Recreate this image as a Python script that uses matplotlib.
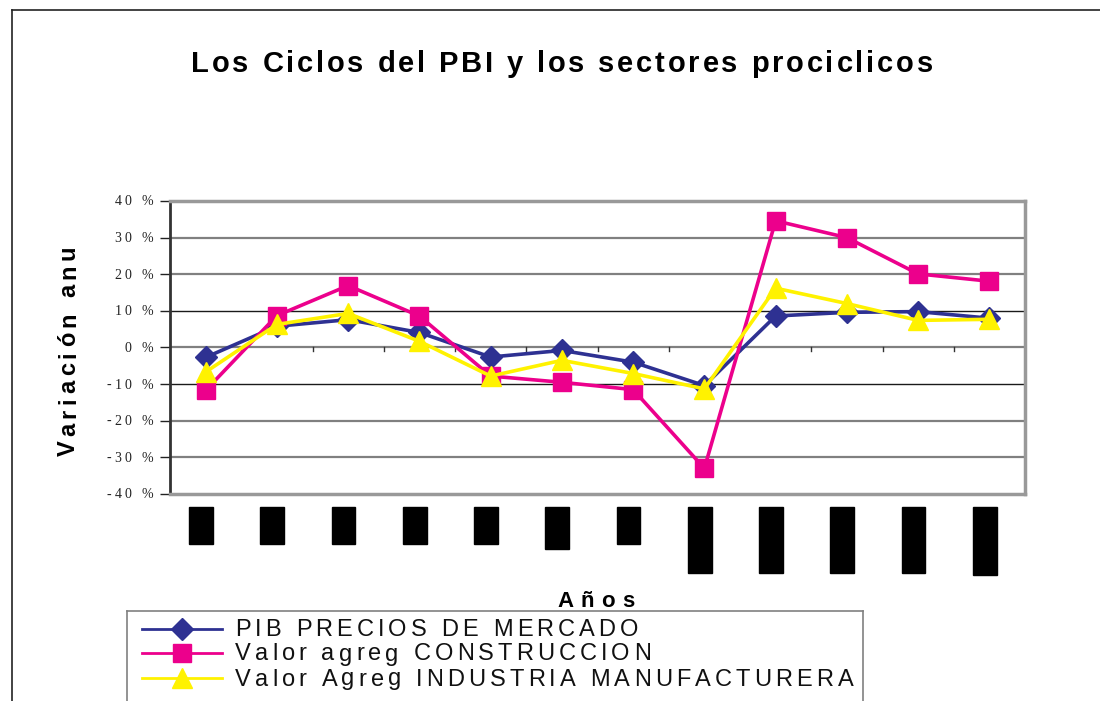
import matplotlib
matplotlib.use("Agg")
import matplotlib.pyplot as plt
from matplotlib.patches import Rectangle
from matplotlib.lines import Line2D
from matplotlib.font_manager import FontProperties
import matplotlib.transforms as mtransforms

# ---- data ----
title = "Los Ciclos del PBI y los sectores prociclicos"
ylabel = "Variación anu"
xlabel = "Años"
n_years = 12
# redacted year labels: relative lengths of the black label blocks
label_block_lengths = [37, 37, 37, 37, 37, 42, 37, 66, 66, 66, 66, 68]

pib = [-2.7, 5.8, 7.6, 4.1, -2.6, -0.8, -4.0, -10.4, 8.6, 9.6, 9.8, 8.0]
construccion = [-11.7, 8.7, 16.9, 8.6, -7.8, -9.5, -11.5, -33.0, 34.6, 30.0, 20.1, 18.1]
industria = [-6.7, 6.3, 9.3, 1.7, -7.8, -3.5, -7.1, -11.3, 16.2, 12.0, 7.4, 7.7]

series_names = ["PIB PRECIOS DE MERCADO",
                "Valor agreg CONSTRUCCION",
                "Valor Agreg INDUSTRIA MANUFACTURERA"]
yticks = [-40, -30, -20, -10, 0, 10, 20, 30, 40]

# ---- figure ----
W, H = 1100, 701
fig = plt.figure(figsize=(W / 100, H / 100), dpi=100)
fig.patch.set_facecolor("white")
renderer = fig.canvas.get_renderer()


def char_width(c, fp):
    w2 = renderer.get_text_width_height_descent("||", fp, ismath=False)[0]
    w3 = renderer.get_text_width_height_descent("|" + c + "|", fp, ismath=False)[0]
    return w3 - w2


def tracked(x, y, s, track, fp, ha="center", rotation=0, color="black"):
    """Draw string s with extra letter spacing. x, y in pixels, y from top, baseline."""
    widths = [char_width(c, fp) for c in s]
    total = sum(widths) + track * (len(s) - 1)
    start = {"center": -total / 2, "right": -total, "left": 0}[ha]
    pos = start
    yb = H - y
    for c, w in zip(s, widths):
        if rotation == 90:
            px, py = x, yb + pos
        else:
            px, py = x + pos, yb
        if c != " ":
            fig.text(px / W, py / H, c, fontproperties=fp, ha="left", va="baseline",
                     rotation=rotation, rotation_mode="anchor", color=color)
        pos += w + track


# outer chart frame (top and left edges visible)
fig.add_artist(Line2D([12 / W, 1.0], [1 - 10 / H, 1 - 10 / H], color="#222222", lw=1.2))
fig.add_artist(Line2D([12 / W, 12 / W], [0, 1 - 10 / H], color="#222222", lw=1.2))

ax = fig.add_axes([170 / W, 1 - 494 / H, (1025 - 170) / W, (494 - 201) / H])
x = list(range(n_years))
ax.set_xlim(-0.5, n_years - 0.5)
ax.set_ylim(-40, 40)

# gridlines
for v in yticks[1:-1]:
    if v == 0:
        continue
    if abs(v) == 10:
        ax.axhline(v, color="#1a1a1a", lw=1.0, zorder=1)
    else:
        ax.axhline(v, color="#808080", lw=1.6, zorder=1)
ax.axhline(0, color="#808080", lw=1.6, zorder=1)
for k in range(1, n_years):
    ax.plot([k - 0.5, k - 0.5], [0, -1.0], color="#333333", lw=1.0, zorder=1)

for s in ["top", "right", "bottom"]:
    ax.spines[s].set_color("#999999")
    ax.spines[s].set_linewidth(2.5)
ax.spines["left"].set_color("#333333")
ax.spines["left"].set_linewidth(2.0)

ax.set_yticks(yticks)
ax.set_yticklabels([])
ax.tick_params(axis="y", direction="out", length=7, width=1, colors="#222222")
ax.set_xticks([])

blue, mag, yel = "#2E3192", "#EC008C", "#FFF200"
style1 = dict(color=blue, marker="D", ms=11, mec=blue, mfc=blue)
style2 = dict(color=mag, marker="s", ms=12.5, mec=mag, mfc=mag)
style3 = dict(color=yel, marker="^", ms=14, mec=yel, mfc=yel)
ax.plot(x, pib, lw=2.6, zorder=3, **style1)
ax.plot(x, construccion, lw=2.6, zorder=3, **style2)
ax.plot(x, industria, lw=2.6, zorder=4, **style3)

# redacted x tick labels (black blocks below axis)
trans = mtransforms.blended_transform_factory(ax.transData, fig.transFigure)
for i, L in enumerate(label_block_lengths):
    top = 1 - 507 / H
    ax.add_patch(Rectangle((i - 0.23, top - L / H), 0.33, L / H, transform=trans,
                           color="black", clip_on=False, zorder=5))

# y tick labels (serif, letter-spaced)
fp_tick = FontProperties(family="Liberation Serif", size=10)
for v in yticks:
    ydisp = ax.transData.transform((0, v))[1]
    tracked(153, H - ydisp + 4.5, f"{v} %", 3.2, fp_tick, ha="right", color="#222222")

fp_title = FontProperties(family="Liberation Sans", weight="bold", size=21)
tracked(562, 72, title, 2.8, fp_title)
fp_ylab = FontProperties(family="Liberation Sans", weight="bold", size=17)
tracked(75, 351, ylabel, 4.6, fp_ylab, rotation=90)
fp_xlab = FontProperties(family="Liberation Sans", weight="bold", size=16)
tracked(596, 607, xlabel, 7, fp_xlab)

# legend box
fig.add_artist(Line2D([127 / W, 863 / W], [1 - 611 / H, 1 - 611 / H], color="#808080", lw=1.2))
fig.add_artist(Line2D([127 / W, 127 / W], [0, 1 - 611 / H], color="#808080", lw=1.2))
fig.add_artist(Line2D([863 / W, 863 / W], [0, 1 - 611 / H], color="#808080", lw=1.2))
fp_leg = FontProperties(family="Liberation Sans", size=17)
leg_rows = [629, 653, 678]
for row, name, st in zip(leg_rows, series_names, [style1, style2, style3]):
    fig.add_artist(Line2D([142 / W, 222 / W], [1 - row / H, 1 - row / H],
                          color=st["color"], lw=2.0))
    fig.add_artist(Line2D([182 / W], [1 - row / H], marker=st["marker"],
                          ms=st["ms"], mec=st["mec"], mfc=st["mfc"], lw=0))
    tracked(235, row + 7.5, name, 4.1, fp_leg, ha="left", color="#111111")

fig.savefig("out.png", dpi=100)
